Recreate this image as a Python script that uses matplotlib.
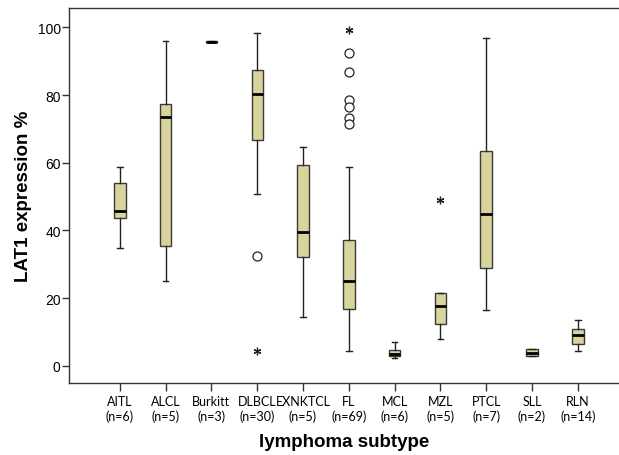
import numpy as np
import matplotlib
matplotlib.use("Agg")
import matplotlib.pyplot as plt

# Box statistics (LAT1 expression %)
subtypes = ["AITL", "ALCL", "Burkitt", "DLBCL", "EXNKTCL", "FL",
            "MCL", "MZL", "PTCL", "SLL", "RLN"]
counts = [6, 5, 3, 30, 5, 69, 6, 5, 7, 2, 14]
whisker_low = [34.7, 24.9, 95.6, 50.9, 14.5, 4.2, 2.3, 8.0, 16.4, 2.9, 4.3]
q1 = [43.8, 35.3, 95.6, 66.6, 32.0, 16.9, 2.8, 12.3, 28.9, 2.9, 6.3]
median = [45.8, 73.6, 95.8, 80.2, 39.5, 25.1, 3.6, 17.7, 44.9, 3.9, 9.0]
q3 = [54.0, 77.5, 96.0, 87.3, 59.2, 37.2, 4.5, 21.4, 63.6, 5.0, 10.9]
whisker_high = [58.6, 95.9, 96.0, 98.4, 64.7, 58.6, 6.9, 21.4, 96.9, 5.0, 13.4]

# outliers (circles) and extremes (asterisks)
outlier_group = ["DLBCL", "FL", "FL", "FL", "FL", "FL", "FL"]
outlier_value = [32.4, 92.5, 86.9, 78.4, 76.4, 73.3, 71.3]
extreme_group = ["DLBCL", "FL", "MZL"]
extreme_value = [4.4, 99.2, 49.1]

stats = []
for i, name in enumerate(subtypes):
    stats.append({
        "label": "%s\n(n=%d)" % (name, counts[i]),
        "whislo": whisker_low[i], "q1": q1[i], "med": median[i],
        "q3": q3[i], "whishi": whisker_high[i], "fliers": [],
    })

fig = plt.figure(figsize=(6.19, 4.56), dpi=100)
ax = fig.add_axes([0.1115, 0.158, 0.8885, 0.822])

pos = np.arange(1, len(subtypes) + 1)
edge = "#3a3a3a"
ax.bxp(stats, positions=pos, widths=0.25, patch_artist=True,
       showfliers=False,
       boxprops=dict(facecolor="#d8d49c", edgecolor=edge, linewidth=1.0),
       medianprops=dict(color="black", linewidth=2.0),
       whiskerprops=dict(color="#222222", linewidth=1.0),
       capprops=dict(color="#222222", linewidth=1.0),
       capwidths=0.12)

ox = [pos[subtypes.index(g)] for g in outlier_group]
ax.plot(ox, outlier_value, "o", markersize=6.5, markerfacecolor="white",
        markeredgecolor="#222222", markeredgewidth=0.9, linestyle="none")
ex = [pos[subtypes.index(g)] for g in extreme_group]
ax.plot(ex, extreme_value, marker=(6, 2, 0), markersize=5.5,
        color="#222222", markeredgewidth=0.9, linestyle="none")

ax.set_xlim(-0.11, 11.9)
ax.set_ylim(-5.1, 105.7)
ax.set_yticks([0, 20, 40, 60, 80, 100])

for s in ax.spines.values():
    s.set_color("#333333")
    s.set_linewidth(1.0)
ax.spines["right"].set_visible(False)

ax.tick_params(axis="y", length=5, width=1, color="#333333",
               labelsize=10, pad=1)
ax.tick_params(axis="x", length=6, width=1, color="#333333",
               labelsize=9, pad=3)
for lab in ax.get_xticklabels():
    lab.set_family("Lato")
    lab.set_linespacing(1.15)
for lab in ax.get_yticklabels():
    lab.set_family("Liberation Sans")

ax.set_ylabel("LAT1 expression %", fontsize=13.5, fontweight="bold",
              family="Liberation Sans", labelpad=4)
ax.set_xlabel("lymphoma subtype", fontsize=13.5, fontweight="bold",
              family="Liberation Sans", labelpad=8)

plt.savefig("out.png", dpi=100)
